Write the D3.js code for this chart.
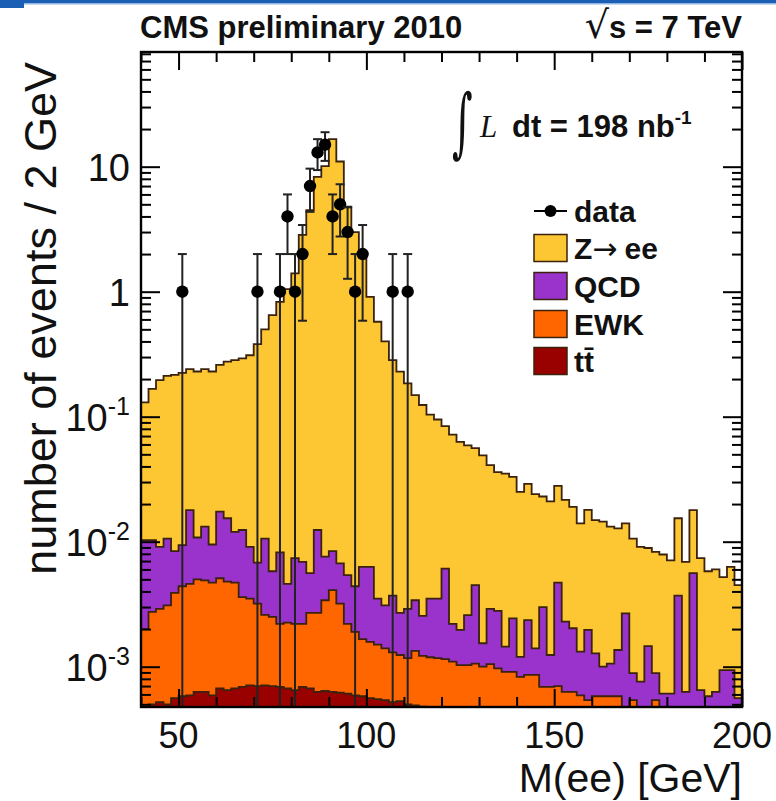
<!DOCTYPE html>
<html><head><meta charset="utf-8">
<script src="https://cdn.jsdelivr.net/npm/d3@7"></script>
<style>body{margin:0;background:#fff}svg{display:block}</style>
</head><body>
<svg id="c" width="776" height="801"></svg>
<script>
// ---------- data ----------
// bins of 2 GeV from 40 to 200 GeV
const binLow = d3.range(40, 200, 2);
// stacked levels (top of each layer in the stack)
const stackZee = [0.13,0.167,0.196,0.212,0.216,0.224,0.24,0.23,0.24,0.23,
  0.26,0.276,0.284,0.293,0.31,0.38,0.5,0.65,0.83,1.05,
  1.4,2.85,4.5,8.3,10.1,16.6,11.0,4.8,3.0,1.97,
  0.91,0.575,0.40,0.284,0.229,0.185,0.149,0.124,0.104,0.095,
  0.084,0.072,0.063,0.059,0.056,0.049,0.041,0.036,0.035,0.033,
  0.025,0.029,0.024,0.023,0.021,0.028,0.0216,0.019,0.014,0.018,
  0.0149,0.0145,0.0132,0.0128,0.014,0.0106,0.0091,0.0089,0.0083,0.0079,
  0.0071,0.0154,0.0069,0.0179,0.0074,0.0058,0.006,0.0052,0.0063,0.0045];
const stackQCD = [0.0103,0.0103,0.0091,0.0106,0.0084,0.0094,0.0179,0.0108,0.0132,0.0095,
  0.0174,0.0154,0.012,0.0124,0.0091,0.0068,0.0106,0.0058,0.0082,0.0046,
  0.0074,0.0069,0.0056,0.0124,0.0076,0.0084,0.0067,0.0054,0.0044,0.0063,
  0.0063,0.0035,0.0031,0.0037,0.0027,0.0029,0.0034,0.00255,0.0035,0.0035,
  0.0061,0.0022,0.00197,0.00259,0.0045,0.00154,0.0029,0.0028,0.00145,0.00244,
  0.0012,0.00236,0.0014,0.003,0.00124,0.0047,0.00229,0.00203,0.00132,0.00197,
  0.00128,0.001,0.00106,0.00136,0.00267,0.00089,0.00076,0.00146,0.00089,0.00061,
  0.00061,0.0037,0.00063,0.0056,0.00065,0.00058,0.00063,0.00094,0.00094,0.00056];
const stackEWK = [0.002,0.00275,0.0029,0.0031,0.0039,0.0044,0.0046,0.005,0.0049,0.0047,
  0.0051,0.0048,0.0047,0.0036,0.0035,0.0032,0.0026,0.0025,0.0022,0.00225,
  0.0022,0.0022,0.0027,0.0027,0.0034,0.0041,0.0032,0.0022,0.0019,0.00166,
  0.00158,0.0015,0.0014,0.0013,0.00124,0.00117,0.00134,0.00122,0.00119,0.00117,
  0.00115,0.0011,0.00103,0.00103,0.00106,0.001,0.00105,0.00097,0.00091,0.00091,
  0.00083,0.00086,0.00086,0.00069,0.00069,0.0007,0.00063,0.00063,0.00059,0.00054,
  0.00058,0.00058,0.00058,0.00058,0.0004,0.00054,0.0004,0.0004,0.00054,0.0004,
  0.0004,0.0004,0.0004,0.0004,0.0004,0.0004,0.0004,0.0004,0.0004,0.0004];
const stackTT = [0.0004,0.0005,0.00052,0.0005,0.00056,0.00058,0.00059,0.00063,0.00063,0.00059,
  0.00067,0.00065,0.00067,0.00069,0.00071,0.0007,0.00071,0.0007,0.00069,0.00067,
  0.00065,0.00069,0.00067,0.00063,0.00064,0.00063,0.00062,0.00061,0.00059,0.00058,
  0.00056,0.00055,0.00054,0.00052,0.00053,0.0005,0.00049,0.00048,0.0004,0.0004,
  0.0004,0.0004,0.0004,0.0004,0.0004,0.0004,0.0004,0.0004,0.0004,0.0004,
  0.0004,0.0004,0.0004,0.0004,0.0004,0.0004,0.0004,0.0004,0.0004,0.0004,
  0.0004,0.0004,0.0004,0.0004,0.0004,0.0004,0.0004,0.0004,0.0004,0.0004,
  0.0004,0.0004,0.0004,0.0004,0.0004,0.0004,0.0004,0.0004,0.0004,0.0004];
// data points (bin centre, events)
const dataMass = [51,71,77,79,81,83,85,87,89,91,93,95,97,99,107,111];
const dataCounts = [1,1,1,4,1,2,7,13,15,4,5,3,1,2,1,1];
// axis ticks
const xTickValues = [50,100,150,200];
const xTickLabels = ["50","100","150","200"];
const yTickValues = [1e-3,1e-2,1e-1,1,10];
const yTickLabels = ["10^-3","10^-2","10^-1","1","10"];
const legendLabels = ["data","Z|\u2192|ee","QCD","EWK","tt\u0304"];
const layerColors = ["#fdc633","#9933cc","#ff6600","#990000"];

// ---------- layout ----------
const svg = d3.select("#c");
const L = 141, R = 742, T = 52, B = 707;
const yMin = 4.76e-4, yMax = 82.7;
const x = d3.scaleLinear().domain([40,200]).range([L,R]);
const y = d3.scaleLog().domain([yMin,yMax]).range([B,T]);
const SANS = "'Liberation Sans', Arial, Helvetica, sans-serif";

// header band
svg.append("rect").attr("x",0).attr("y",0).attr("width",776).attr("height",3).attr("fill","#1a5fb4");
svg.append("rect").attr("x",0).attr("y",0).attr("width",24).attr("height",8).attr("fill","#1a5fb4");
svg.append("rect").attr("x",24).attr("y",3).attr("width",752).attr("height",1.5).attr("fill","#8fb5e3");

svg.append("defs").append("clipPath").attr("id","pa")
  .append("rect").attr("x",L).attr("y",T).attr("width",R-L).attr("height",B-T);
const plot = svg.append("g").attr("clip-path","url(#pa)");

function stepPath(vals){
  let p = `M${x(40)},${B+5}`;
  vals.forEach((v,i)=>{
    const yy = v > yMin ? y(v) : B+5;
    p += `L${x(binLow[i])},${yy}L${x(binLow[i]+2)},${yy}`;
  });
  p += `L${x(200)},${B+5}Z`;
  return p;
}
[stackZee, stackQCD, stackEWK, stackTT].forEach((s,k)=>{
  plot.append("path").attr("d",stepPath(s)).attr("fill",layerColors[k])
    .attr("stroke","#3a220c").attr("stroke-width",1.8).attr("stroke-linejoin","miter");
});

// data points with sqrt(N) errors
const dg = plot.append("g");
dataMass.forEach((m,i)=>{
  const n = dataCounts[i], e = Math.sqrt(n);
  const cx = x(m);
  const up = y(n+e);
  const lo = (n-e) > yMin ? y(n-e) : B+5;
  dg.append("line").attr("x1",cx).attr("x2",cx).attr("y1",up).attr("y2",lo)
    .attr("stroke","#222").attr("stroke-width",2);
  dg.append("line").attr("x1",cx-4.5).attr("x2",cx+4.5).attr("y1",up).attr("y2",up)
    .attr("stroke","#222").attr("stroke-width",2);
  if ((n-e) > yMin) dg.append("line").attr("x1",cx-4.5).attr("x2",cx+4.5).attr("y1",lo).attr("y2",lo)
    .attr("stroke","#222").attr("stroke-width",2);
  dg.append("circle").attr("cx",cx).attr("cy",y(n)).attr("r",6.2).attr("fill","#000");
});

// ---------- axes (ticks inward, on all four sides) ----------
const xMinor = d3.range(40,201,10).filter(v=>!xTickValues.includes(v));
const yAll = y.ticks();
const yMinor = yAll.filter(v=>!yTickValues.some(t=>Math.abs(Math.log10(v)-Math.log10(t))<1e-6));
function styleAxis(g){ g.select(".domain").remove(); g.selectAll("line").attr("stroke","#000").attr("stroke-width",2); g.selectAll("text").remove(); }
svg.append("g").attr("transform",`translate(0,${B})`).call(d3.axisBottom(x).tickValues(xTickValues).tickSize(-18).tickSizeOuter(0)).call(styleAxis);
svg.append("g").attr("transform",`translate(0,${B})`).call(d3.axisBottom(x).tickValues(xMinor).tickSize(-10).tickSizeOuter(0)).call(styleAxis);
svg.append("g").attr("transform",`translate(0,${T})`).call(d3.axisTop(x).tickValues(xTickValues).tickSize(-18).tickSizeOuter(0)).call(styleAxis);
svg.append("g").attr("transform",`translate(0,${T})`).call(d3.axisTop(x).tickValues(xMinor).tickSize(-10).tickSizeOuter(0)).call(styleAxis);
svg.append("g").attr("transform",`translate(${L},0)`).call(d3.axisLeft(y).tickValues(yTickValues).tickSize(-19).tickSizeOuter(0)).call(styleAxis);
svg.append("g").attr("transform",`translate(${L},0)`).call(d3.axisLeft(y).tickValues(yMinor).tickSize(-10).tickSizeOuter(0)).call(styleAxis);
svg.append("g").attr("transform",`translate(${R},0)`).call(d3.axisRight(y).tickValues(yTickValues).tickSize(-19).tickSizeOuter(0)).call(styleAxis);
svg.append("g").attr("transform",`translate(${R},0)`).call(d3.axisRight(y).tickValues(yMinor).tickSize(-10).tickSizeOuter(0)).call(styleAxis);

svg.append("rect").attr("x",L).attr("y",T).attr("width",R-L).attr("height",B-T)
  .attr("fill","none").attr("stroke","#000").attr("stroke-width",2.4);

// tick labels
xTickValues.forEach((v,i)=>{
  svg.append("text").attr("x",x(v)).attr("y",748).attr("text-anchor","middle")
    .attr("font-family",SANS).attr("font-size",36).attr("fill","#111").text(xTickLabels[i]);
});
yTickValues.forEach((v,i)=>{
  const parts = yTickLabels[i].split("^");
  const t = svg.append("text").attr("x",130).attr("y",y(v)+14).attr("text-anchor","end")
    .attr("font-family",SANS).attr("font-size",38).attr("fill","#111");
  t.append("tspan").text(parts[0]);
  if (parts[1]) t.append("tspan").attr("dy",-16).attr("font-size",25).text(parts[1]);
});

// axis titles
svg.append("text").attr("x",742).attr("y",792).attr("text-anchor","end")
  .attr("font-family",SANS).attr("font-size",41).attr("fill","#111").text("M(ee) [GeV]");
svg.append("text").attr("transform","translate(56,62) rotate(-90)").attr("text-anchor","end")
  .attr("font-family",SANS).attr("font-size",45).attr("fill","#111").text("number of events / 2 GeV");

// header texts
svg.append("text").attr("x",140).attr("y",38).attr("font-family",SANS).attr("font-weight","bold")
  .attr("font-size",31).attr("fill","#111").text("CMS preliminary 2010");
const rs = svg.append("text").attr("x",742).attr("y",38).attr("text-anchor","end").attr("font-family",SANS)
  .attr("font-weight","bold").attr("font-size",31).attr("fill","#111");
rs.append("tspan").attr("font-family","'DejaVu Sans', sans-serif").attr("font-weight","normal").attr("font-size",38).text("\u221A");
rs.append("tspan").text("s = 7 TeV");

// luminosity
svg.append("text").attr("transform","translate(452,148) scale(0.6,1.15)").attr("font-family","'DejaVu Serif', serif")
  .attr("font-size",66).attr("fill","#111").text("\u222B");
svg.append("text").attr("x",480).attr("y",137).attr("font-family","'Liberation Serif', serif")
  .attr("font-style","italic").attr("font-size",31).attr("fill","#111").text("L");
const lum = svg.append("text").attr("x",512).attr("y",137).attr("font-family",SANS)
  .attr("font-weight","bold").attr("font-size",31).attr("fill","#111");
lum.append("tspan").text("dt = 198 nb");
lum.append("tspan").attr("dy",-13).attr("font-size",19).text("-1");

// legend
const lx = 534, lw = 33, lh = 27;
const rowY = [211, 248, 286, 324, 361];
svg.append("line").attr("x1",lx).attr("x2",lx+lw).attr("y1",rowY[0]).attr("y2",rowY[0])
  .attr("stroke","#000").attr("stroke-width",2);
svg.append("circle").attr("cx",lx+lw/2).attr("cy",rowY[0]).attr("r",6).attr("fill","#000");
layerColors.forEach((c,k)=>{
  svg.append("rect").attr("x",lx).attr("y",rowY[k+1]-lh/2).attr("width",lw).attr("height",lh)
    .attr("fill",c).attr("stroke","#3a220c").attr("stroke-width",1.5);
});
legendLabels.forEach((t,k)=>{
  const tx = svg.append("text").attr("x",lx+lw+7).attr("y",rowY[k]+11).attr("font-family",SANS)
    .attr("font-weight","bold").attr("font-size",30).attr("fill","#111");
  const parts = t.split("|");
  if (parts.length === 3) {
    tx.append("tspan").text(parts[0]);
    tx.append("tspan").attr("font-family","'DejaVu Sans', sans-serif").attr("font-weight","normal")
      .attr("font-size",30).text(parts[1]);
    tx.append("tspan").attr("dx",7).text(parts[2]);
  } else tx.text(t);
});
</script>
</body></html>
